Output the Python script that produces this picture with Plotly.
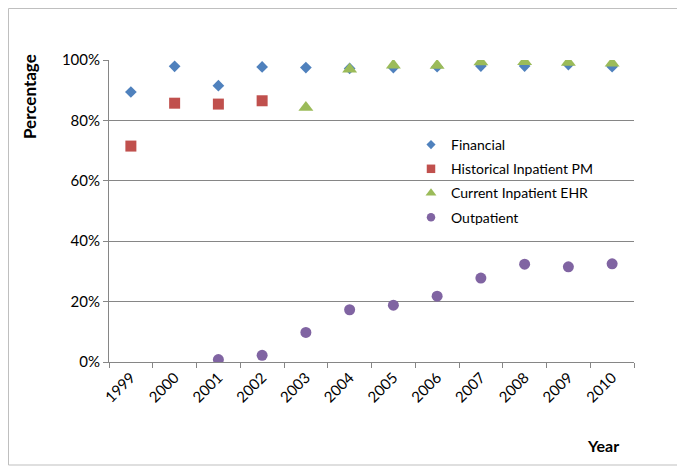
import plotly.graph_objects as go

years = ["1999", "2000", "2001", "2002", "2003", "2004", "2005", "2006", "2007", "2008", "2009", "2010"]

financial = [0.894, 0.979, 0.915, 0.977, 0.975, 0.972, 0.975, 0.978, 0.980, 0.980, 0.985, 0.978]
historical_years = ["1999", "2000", "2001", "2002"]
historical = [0.715, 0.857, 0.854, 0.865]
current_years = ["2003", "2004", "2005", "2006", "2007", "2008", "2009", "2010"]
current = [0.843, 0.969, 0.983, 0.982, 0.993, 0.994, 0.992, 0.989]
outpatient_years = ["2001", "2002", "2003", "2004", "2005", "2006", "2007", "2008", "2009", "2010"]
outpatient = [0.008, 0.022, 0.098, 0.173, 0.188, 0.218, 0.278, 0.324, 0.315, 0.325]

series_names = ["Financial", "Historical Inpatient PM", "Current Inpatient EHR", "Outpatient"]
series_x = [years, historical_years, current_years, outpatient_years]
series_y = [financial, historical, current, outpatient]
symbols = ["diamond", "square", "triangle-up", "circle"]
colors = ["#4F81BD", "#C0504D", "#9BBB59", "#8064A2"]
sizes = [9, 11, 13, 11]
legend_sizes = [7, 8.5, 9.5, 8.5]

FONT = "Lato, 'Open Sans', sans-serif"

W, H = 677, 461
L, R, T, B = 101, 51, 52, 107
PW, PH = W - L - R, H - T - B


def px(x):
    return (x - L) / PW


def py(y):
    return (H - B - y) / PH


fig = go.Figure()
for i, name in enumerate(series_names):
    fig.add_trace(go.Scatter(x=series_x[i], y=series_y[i], mode="markers", name=name,
                             showlegend=False, legendgroup=str(i),
                             marker=dict(symbol=symbols[i], size=sizes[i], color=colors[i])))
for i, name in enumerate(series_names):
    fig.add_trace(go.Scatter(x=[None], y=[None], mode="markers", name=name,
                             showlegend=True, legendgroup=str(i),
                             marker=dict(symbol=symbols[i], size=legend_sizes[i], color=colors[i])))

fig.update_layout(
    width=W, height=H,
    margin=dict(l=L, r=R, t=T, b=B),
    paper_bgcolor="white", plot_bgcolor="white",
    font=dict(family=FONT, size=15, color="#000000"),
    showlegend=True,
    legend=dict(x=px(403), y=py(121), xanchor="left", yanchor="top",
                bgcolor="rgba(0,0,0,0)", font=dict(size=14),
                tracegroupgap=3, itemsizing="trace"),
    xaxis=dict(type="category", categoryorder="array", categoryarray=years,
               range=[-0.5, 11.5], automargin=False,
               showline=True, linecolor="#868686", linewidth=1,
               ticks="outside", ticklen=5, tickcolor="#868686", tickson="boundaries",
               tickangle=-45, showgrid=False, zeroline=False,
               tickfont=dict(size=15)),
    yaxis=dict(range=[0, 1], dtick=0.2, tickformat=".0%", automargin=False,
               showline=True, linecolor="#868686", linewidth=1,
               ticks="outside", ticklen=5, tickcolor="#868686",
               showgrid=True, gridcolor="#868686", gridwidth=1, zeroline=False,
               tickfont=dict(size=15)),
    shapes=[dict(type="rect", xref="paper", yref="paper",
                 x0=px(0.5), x1=px(673), y0=py(457), y1=py(0.5),
                 line=dict(color="#BFBFBF", width=1), fillcolor="rgba(0,0,0,0)", layer="below")],
    annotations=[
        dict(text="<b>Percentage</b>", xref="paper", yref="paper",
             x=px(22), y=py(89), xanchor="center", yanchor="middle",
             textangle=-90, showarrow=False, font=dict(size=17)),
        dict(text="<b>Year</b>", xref="paper", yref="paper",
             x=px(595), y=py(437), xanchor="center", yanchor="middle",
             showarrow=False, font=dict(size=16)),
    ],
)

fig.write_html("out.html")
